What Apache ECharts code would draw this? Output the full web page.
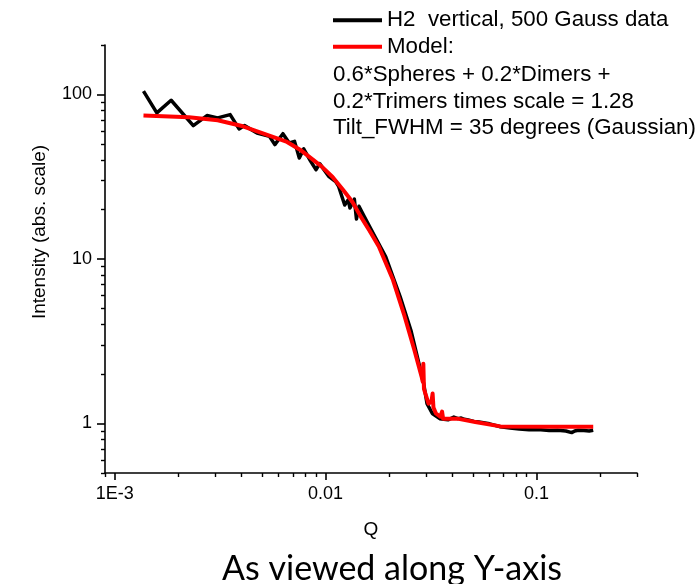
<!DOCTYPE html>
<html>
<head>
<meta charset="utf-8">
<script src="https://cdn.jsdelivr.net/npm/echarts@6.0.0/dist/echarts.min.js"></script>
<style>
  html, body { margin: 0; padding: 0; background: #ffffff; }
  #chart { width: 697px; height: 584px; }
</style>
</head>
<body>
<div id="chart"></div>
<script>
// Measured scattering curve (H2, vertical field, 500 Gauss)
const dataQ = [0.00137, 0.001585, 0.001853, 0.00236, 0.00274, 0.00308, 0.00353, 0.00389, 0.00413,
  0.00473, 0.00542, 0.00575, 0.00628, 0.00673, 0.00713, 0.00751, 0.00788, 0.00851, 0.00902, 0.00938,
  0.01035, 0.01117, 0.01154, 0.01233, 0.01282, 0.01306, 0.0137, 0.01402, 0.01441, 0.01527, 0.0172,
  0.0193, 0.0226, 0.0254, 0.028, 0.0292, 0.0303, 0.0321, 0.0348, 0.0381, 0.0406, 0.0425, 0.044,
  0.0455, 0.0475, 0.0505, 0.0534, 0.06, 0.0675, 0.075, 0.083, 0.0923, 0.105, 0.115, 0.126, 0.138,
  0.147, 0.152, 0.158, 0.168, 0.178, 0.186];
const dataI = [104.8, 77.3, 92.3, 64.7, 74.5, 72.1, 75.5, 61.8, 64.7,
  58.4, 55.7, 49.6, 57.8, 50.7, 51.9, 41.1, 46.7, 39.2, 34.9, 38.0,
  31.8, 29.6, 27.6, 21.3, 22.9, 20.4, 23.1, 17.5, 20.9, 18.1, 13.6,
  10.3, 5.89, 3.69, 2.20, 1.75, 1.32, 1.15, 1.07, 1.053, 1.094, 1.07, 1.08,
  1.06, 1.05, 1.03, 1.02, 0.995, 0.955, 0.94, 0.925, 0.915, 0.915, 0.905, 0.91, 0.90,
  0.88, 0.90, 0.91, 0.905, 0.90, 0.91];

// Model: spheres + dimers + trimers with tilt distribution
const modelQ = [0.00137, 0.00225, 0.00308, 0.00406, 0.00554, 0.00657, 0.00757, 0.00957, 0.0108,
  0.0121, 0.0134, 0.0147, 0.0162, 0.0179, 0.0209, 0.0235, 0.0264, 0.0286, 0.0289, 0.0291, 0.0293,
  0.0297, 0.0308, 0.0318, 0.0322, 0.0325, 0.0334, 0.035, 0.0357, 0.0361, 0.0368, 0.0422, 0.0513,
  0.0675, 0.112, 0.186];
const modelI = [74.5, 72.8, 69.7, 64.1, 55.7, 51.5, 46.2, 36.6, 31.5,
  26.4, 22.3, 18.1, 14.8, 11.9, 7.45, 4.66, 2.79, 1.91, 1.80, 2.31, 1.62,
  1.59, 1.32, 1.36, 1.52, 1.25, 1.15, 1.10, 1.18, 1.07, 1.053, 1.07, 1.02,
  0.96, 0.955, 0.955];

// Tick values
const xMajorTicks = [0.001, 0.01, 0.1];
const xMinorTicks = [0.0009, 0.002, 0.003, 0.004, 0.005, 0.006, 0.007, 0.008, 0.009,
  0.02, 0.03, 0.04, 0.05, 0.06, 0.07, 0.08, 0.09, 0.2, 0.3];
const yMajorTicks = [1, 10, 100];
const yMinorTicks = [0.5, 0.6, 0.7, 0.8, 0.9, 2, 3, 4, 5, 6, 7, 8, 9,
  20, 30, 40, 50, 60, 70, 80, 90, 200];
const xTickText = { 0.001: '1E-3', 0.01: '0.01', 0.1: '0.1' };

const legendNames = ['H2  vertical, 500 Gauss data', 'Model:'];
const noteLines = ['0.6*Spheres + 0.2*Dimers +', '0.2*Trimers times scale = 1.28',
  'Tilt_FWHM = 35 degrees (Gaussian)'];

const FONT = '"Liberation Sans", Arial, sans-serif';

const pairs = (xs, ys) => xs.map((x, i) => [x, ys[i]]);

const lineAxis = { show: true, lineStyle: { color: '#000', width: 1.6 } };

const chart = echarts.init(document.getElementById('chart'), null, { renderer: 'canvas' });
chart.setOption({
  backgroundColor: '#ffffff',
  animation: false,
  grid: { left: 105, right: 60, top: 45, bottom: 111, containLabel: false },
  legend: {
    orient: 'vertical',
    left: 333,
    top: 7,
    padding: 0,
    itemGap: 0,
    itemWidth: 49,
    itemHeight: 4,
    icon: 'rect',
    data: legendNames,
    textStyle: { fontFamily: FONT, fontSize: 22.3, color: '#000', lineHeight: 26.5 },
    selectedMode: false
  },
  xAxis: [
    {
      type: 'log', logBase: 10, min: 0.0009, max: 0.3, position: 'bottom',
      axisLine: lineAxis,
      axisTick: { show: true, inside: false, length: 7, customValues: xMajorTicks,
        lineStyle: { color: '#000', width: 1.6 } },
      axisLabel: { show: true, margin: 12, customValues: xMajorTicks,
        formatter: v => xTickText[v] || String(v),
        fontFamily: FONT, fontSize: 18, color: '#000' },
      splitLine: { show: false },
      name: 'Q', nameLocation: 'middle', nameGap: 47,
      nameTextStyle: { fontFamily: FONT, fontSize: 19, color: '#000' }
    },
    {
      type: 'log', logBase: 10, min: 0.0009, max: 0.3, position: 'bottom',
      axisLine: { show: false },
      axisTick: { show: true, inside: false, length: 4, customValues: xMinorTicks,
        lineStyle: { color: '#000', width: 1.4 } },
      axisLabel: { show: false },
      splitLine: { show: false }
    }
  ],
  yAxis: [
    {
      type: 'log', logBase: 10, min: 0.5, max: 200, position: 'left',
      axisLine: lineAxis,
      axisTick: { show: true, inside: false, length: 8, customValues: yMajorTicks,
        lineStyle: { color: '#000', width: 1.6 } },
      axisLabel: { show: true, margin: 13, customValues: yMajorTicks,
        formatter: v => String(v),
        fontFamily: FONT, fontSize: 18, color: '#000' },
      splitLine: { show: false }
    },
    {
      type: 'log', logBase: 10, min: 0.5, max: 200, position: 'left',
      axisLine: { show: false },
      axisTick: { show: true, inside: false, length: 4, customValues: yMinorTicks,
        lineStyle: { color: '#000', width: 1.4 } },
      axisLabel: { show: false },
      splitLine: { show: false }
    }
  ],
  series: [
    {
      name: legendNames[0], type: 'line', xAxisIndex: 0, yAxisIndex: 0,
      data: pairs(dataQ, dataI), showSymbol: false, symbol: 'none',
      itemStyle: { color: '#000000' },
      lineStyle: { color: '#000000', width: 3.5, join: 'round' },
      z: 2
    },
    {
      name: legendNames[1], type: 'line', xAxisIndex: 0, yAxisIndex: 0,
      data: pairs(modelQ, modelI), showSymbol: false, symbol: 'none',
      itemStyle: { color: '#ff0000' },
      lineStyle: { color: '#ff0000', width: 4, join: 'round' },
      z: 3
    }
  ],
  graphic: [
    {
      type: 'text', left: 333, top: 62,
      style: { text: noteLines.join('\n'), font: '22.3px ' + FONT, fill: '#000', lineHeight: 26.5 }
    },
    {
      type: 'text', x: 40, y: 232, rotation: Math.PI / 2,
      style: { text: 'Intensity (abs. scale)', font: '19px ' + FONT, fill: '#000',
        align: 'center', verticalAlign: 'middle' }
    },
    {
      type: 'text', x: 392, y: 569,
      style: { text: 'As viewed along Y-axis', font: '34px Lato, "Open Sans", sans-serif', fill: '#000',
        align: 'center', verticalAlign: 'middle' }
    }
  ]
});
</script>
</body>
</html>
